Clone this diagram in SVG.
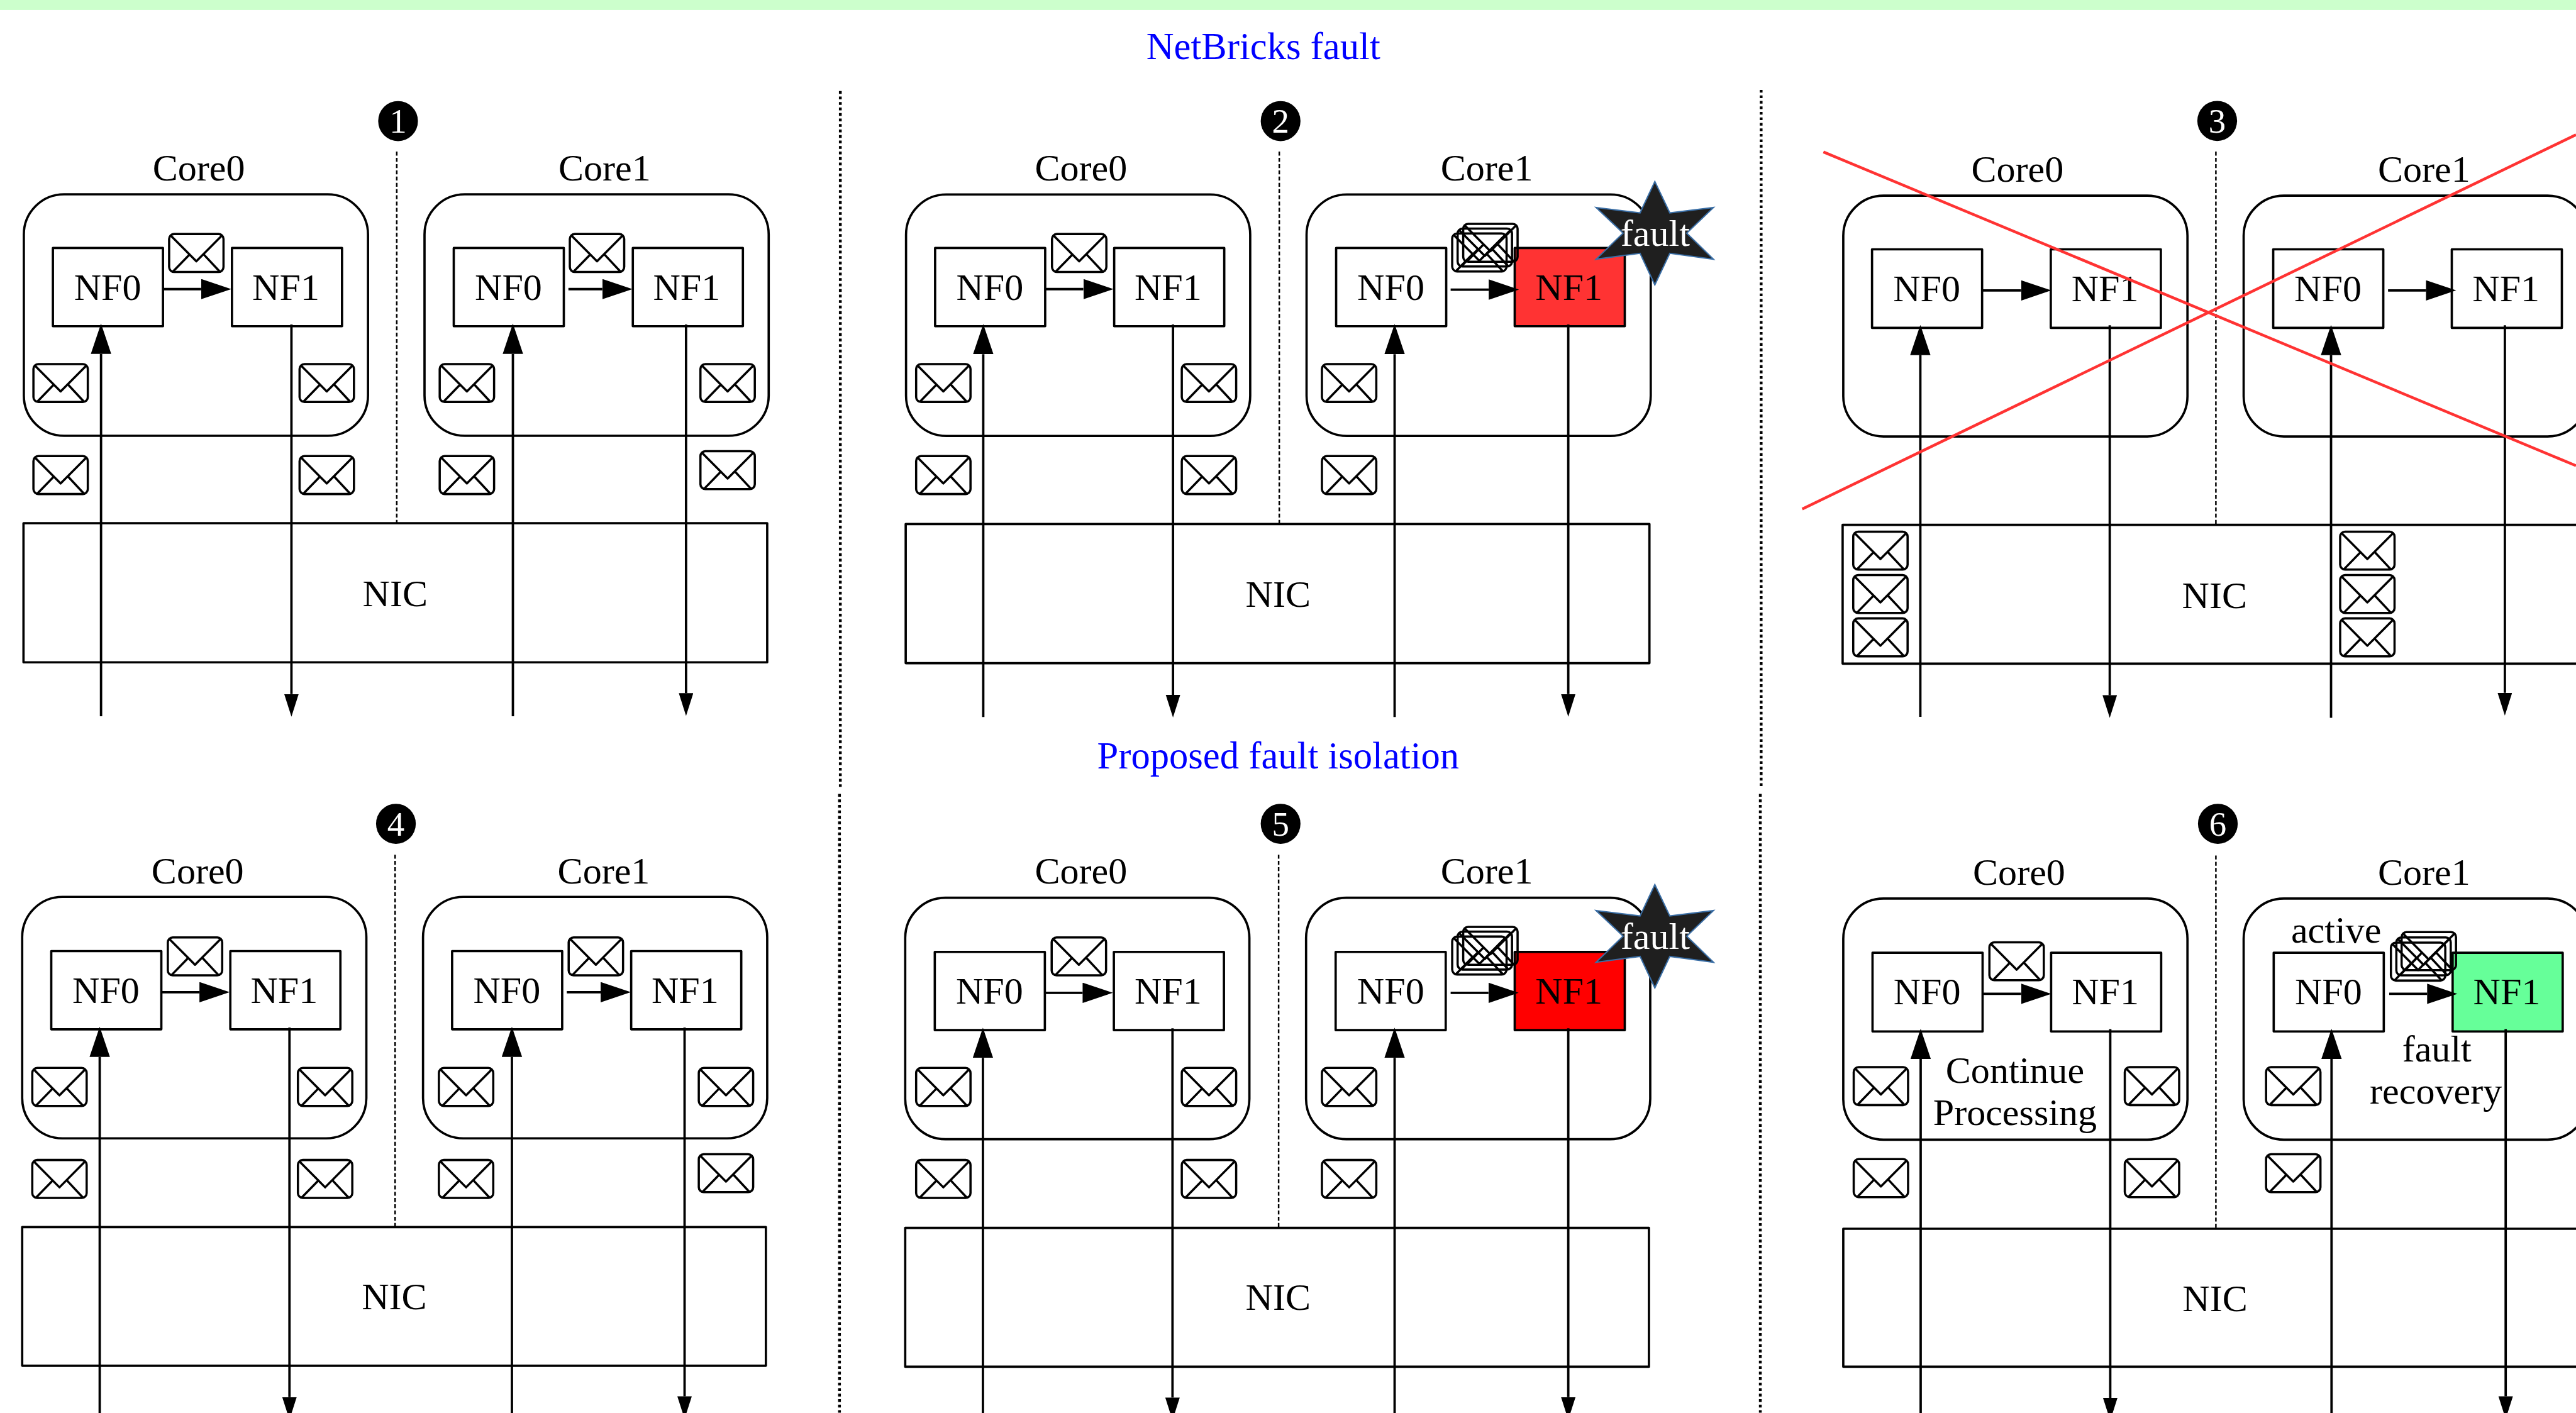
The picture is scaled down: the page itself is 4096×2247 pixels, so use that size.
<svg xmlns="http://www.w3.org/2000/svg" width="4096" height="2247" viewBox="0 0 4096 2247">
<style>
.box{fill:none;stroke:#000;stroke-width:1.4;stroke-linejoin:round}
.nf{fill:#fff;stroke:#000;stroke-width:1.4;stroke-linejoin:round}
.env{fill:none;stroke:#000;stroke-width:1.35;stroke-linejoin:round}
.t{font-family:"Liberation Serif","Times New Roman",serif;font-size:23px;text-anchor:middle;fill:#000}
.ttl{fill:#0000ff;font-size:23.2px}
.num{font-size:21px;fill:#fff}
.w{fill:#fff}
.badge{fill:#000}
.star{fill:#1f1f1f;stroke:#3a6ea5;stroke-width:.8}
.arrow{fill:none;stroke:#000;stroke-width:1.45}
.up{marker-end:url(#hb)}
.dn{marker-end:url(#hs)}
.in{fill:none;stroke:#000;stroke-width:.95;stroke-dasharray:2.4 1.4}
.dv{fill:none;stroke:#000;stroke-width:1.7;stroke-dasharray:1.7 1.65}
.x{stroke:#ff3333;stroke-width:1.7;fill:none}
</style>
<defs>
<marker id="hb" markerUnits="userSpaceOnUse" markerWidth="19" markerHeight="13" refX="0" refY="6.2" orient="auto"><path d="M0 0L18.4 6.2L0 12.4Z" fill="#000"/></marker>
<marker id="hs" markerUnits="userSpaceOnUse" markerWidth="14" markerHeight="9" refX="0" refY="4.4" orient="auto"><path d="M0 0L13.8 4.4L0 8.8Z" fill="#000"/></marker>
<g id="env" class="env"><rect x=".65" y=".65" width="33.1" height="23.1" rx="3"/><path d="M1.5 1.5L17.2 17.3L32.9 1.5M3 23.5L13 13.2M21.8 13.2L31.4 23.5"/></g>
<polygon id="starShape" class="star" points="0,-31.4 9.1,-12.3 35.7,-15.6 19.4,0 35.7,15.9 9.1,12.3 0,31.5 -9,12.3 -35.8,15.9 -19.3,0 -35.8,-15.6 -9,-12.3"/>
</defs>
<g transform="scale(2.61224)">
<rect id="band" x="0" y="0" width="1568" height="6.1" fill="#ccffcc"/>
<text id="title1" class="t ttl" x="769" y="36">NetBricks fault</text>
<text id="title2" class="t ttl" x="778" y="467.7">Proposed fault isolation</text>
<g id="dividers">
<path class="dv" d="M511.5 55.4V479M511 483.3V860M1072 54.7V479M1071.5 483.3V860"/>
</g>

<g id="panel1">
<g id="p1-badge"><ellipse class="badge" cx="242.3" cy="73.7" rx="12.1" ry="12.2"/><text class="t num" x="242.3" y="80.8">1</text></g>
<g id="p1-core0"><rect class="box" x="14.5" y="118.3" width="209.5" height="147" rx="24.5"/><text class="t" x="121" y="109.7">Core0</text></g>
<g id="p1-core1"><rect class="box" x="258.4" y="118.3" width="209.5" height="147" rx="24.5"/><text class="t" x="368" y="109.7">Core1</text></g>
<g id="p1-c0-nf0"><rect class="nf" x="32.2" y="151" width="67" height="47.6"/><text class="t" x="65.5" y="182.5">NF0</text></g>
<g id="p1-c0-nf1"><rect class="nf" x="141.2" y="151" width="67" height="47.6"/><text class="t" x="174" y="182.5">NF1</text></g>
<g id="p1-c1-nf0"><rect class="nf" x="276.2" y="151" width="67" height="47.6"/><text class="t" x="309.5" y="182.5">NF0</text></g>
<g id="p1-c1-nf1"><rect class="nf" x="385.2" y="151" width="67" height="47.6"/><text class="t" x="418" y="182.5">NF1</text></g>
<g id="p1-nic"><rect class="box" x="14.3" y="318.5" width="452.7" height="84.7"/><text class="t" x="240.5" y="369">NIC</text></g>
<g id="p1-envs">
<use href="#env" x="102.3" y="141.8"/><use href="#env" x="346.2" y="141.8"/>
<use href="#env" x="19.7" y="221"/><use href="#env" x="181.7" y="221"/><use href="#env" x="19.7" y="277"/><use href="#env" x="181.7" y="277"/>
<use href="#env" x="267" y="221"/><use href="#env" x="425.7" y="221"/><use href="#env" x="267" y="277"/><use href="#env" x="425.7" y="274"/>
</g>
</g>

<g id="panel2">
<g id="p2-badge"><ellipse class="badge" cx="779.5" cy="73.7" rx="12.1" ry="12.2"/><text class="t num" x="779.5" y="80.8">2</text></g>
<g id="p2-core0"><rect class="box" x="551.5" y="118.4" width="209.5" height="147" rx="24.5"/><text class="t" x="658" y="110">Core0</text></g>
<g id="p2-core1"><rect class="box" x="795.3" y="118.4" width="209.5" height="147" rx="24.5"/><text class="t" x="905" y="110">Core1</text></g>
<g id="p2-c0-nf0"><rect class="nf" x="569.2" y="151" width="67" height="47.6"/><text class="t" x="602.5" y="182.5">NF0</text></g>
<g id="p2-c0-nf1"><rect class="nf" x="678.2" y="151" width="67" height="47.6"/><text class="t" x="711" y="182.5">NF1</text></g>
<g id="p2-c1-nf0"><rect class="nf" x="813.3" y="151" width="67" height="47.6"/><text class="t" x="846.6" y="182.5">NF0</text></g>
<g id="p2-c1-nf1"><rect class="nf" style="fill:#ff3333" x="922" y="151" width="67" height="47.6"/><text class="t" x="955" y="182.5">NF1</text></g>
<g id="p2-nic"><rect class="box" x="551.3" y="319" width="452.7" height="84.7"/><text class="t" x="778" y="369.5">NIC</text></g>
<g id="p2-envs">
<use href="#env" x="639.7" y="141.8"/>
<use href="#env" x="883.3" y="141.5"/><use href="#env" x="886.6" y="138.5"/><use href="#env" x="890" y="135.6"/>
<use href="#env" x="557" y="221"/><use href="#env" x="718.7" y="221"/><use href="#env" x="557" y="277"/><use href="#env" x="718.7" y="277"/>
<use href="#env" x="804" y="221"/><use href="#env" x="804" y="277"/>
</g>
</g>

<g id="panel3">
<g id="p3-badge"><ellipse class="badge" cx="1349.6" cy="73.6" rx="12.1" ry="12.2"/><text class="t num" x="1349.6" y="80.7">3</text></g>
<g id="p3-core0"><rect class="box" x="1122" y="119.1" width="209.5" height="146.6" rx="24.5"/><text class="t" x="1228" y="110.6">Core0</text></g>
<g id="p3-core1"><rect class="box" x="1365.7" y="119.1" width="209.5" height="146.6" rx="24.5"/><text class="t" x="1475.5" y="110.6">Core1</text></g>
<g id="p3-c0-nf0"><rect class="nf" x="1139.5" y="151.8" width="67" height="47.8"/><text class="t" x="1172.8" y="183.3">NF0</text></g>
<g id="p3-c0-nf1"><rect class="nf" x="1248.3" y="151.8" width="67" height="47.8"/><text class="t" x="1281.3" y="183.3">NF1</text></g>
<g id="p3-c1-nf0"><rect class="nf" x="1383.7" y="151.8" width="67" height="47.8"/><text class="t" x="1417" y="183.3">NF0</text></g>
<g id="p3-c1-nf1"><rect class="nf" x="1492.4" y="151.8" width="67" height="47.8"/><text class="t" x="1525.4" y="183.3">NF1</text></g>
<g id="p3-nic"><rect class="box" x="1121.6" y="319.5" width="452.7" height="84.5"/><text class="t" x="1348" y="370">NIC</text></g>
<g id="p3-envs">
<use href="#env" x="1127.4" y="323"/><use href="#env" x="1127.4" y="349.4"/><use href="#env" x="1127.4" y="375.8"/>
<use href="#env" x="1423.8" y="323"/><use href="#env" x="1423.8" y="349.4"/><use href="#env" x="1423.8" y="375.8"/>
</g>
</g>

<g id="panel4">
<g id="p4-badge"><ellipse class="badge" cx="241" cy="501.5" rx="12.1" ry="12.2"/><text class="t num" x="241" y="508.6">4</text></g>
<g id="p4-core0"><rect class="box" x="13.5" y="546" width="209.5" height="147" rx="24.5"/><text class="t" x="120.3" y="537.7">Core0</text></g>
<g id="p4-core1"><rect class="box" x="257.5" y="546" width="209.5" height="147" rx="24.5"/><text class="t" x="367.5" y="537.7">Core1</text></g>
<g id="p4-c0-nf0"><rect class="nf" x="31.2" y="579" width="67" height="47.6"/><text class="t" x="64.5" y="610.5">NF0</text></g>
<g id="p4-c0-nf1"><rect class="nf" x="140.2" y="579" width="67" height="47.6"/><text class="t" x="173" y="610.5">NF1</text></g>
<g id="p4-c1-nf0"><rect class="nf" x="275.2" y="579" width="67" height="47.6"/><text class="t" x="308.5" y="610.5">NF0</text></g>
<g id="p4-c1-nf1"><rect class="nf" x="384.2" y="579" width="67" height="47.6"/><text class="t" x="417" y="610.5">NF1</text></g>
<g id="p4-nic"><rect class="box" x="13.5" y="747" width="452.7" height="84.4"/><text class="t" x="240" y="797">NIC</text></g>
<g id="p4-envs">
<use href="#env" x="101.5" y="570"/><use href="#env" x="345.5" y="570"/>
<use href="#env" x="19" y="649.5"/><use href="#env" x="180.7" y="649.5"/><use href="#env" x="19" y="705.5"/><use href="#env" x="180.7" y="705.5"/>
<use href="#env" x="266.5" y="649.5"/><use href="#env" x="424.7" y="649.5"/><use href="#env" x="266.5" y="705.5"/><use href="#env" x="424.7" y="702"/>
</g>
</g>

<g id="panel5">
<g id="p5-badge"><ellipse class="badge" cx="779.5" cy="501.5" rx="12.1" ry="12.2"/><text class="t num" x="779.5" y="508.6">5</text></g>
<g id="p5-core0"><rect class="box" x="551" y="546.5" width="209.5" height="147" rx="24.5"/><text class="t" x="658" y="538">Core0</text></g>
<g id="p5-core1"><rect class="box" x="795" y="546.5" width="209.5" height="147" rx="24.5"/><text class="t" x="905" y="538">Core1</text></g>
<g id="p5-c0-nf0"><rect class="nf" x="569" y="579.5" width="67" height="47.6"/><text class="t" x="602.3" y="611">NF0</text></g>
<g id="p5-c0-nf1"><rect class="nf" x="678" y="579.5" width="67" height="47.6"/><text class="t" x="711" y="611">NF1</text></g>
<g id="p5-c1-nf0"><rect class="nf" x="813" y="579.5" width="67" height="47.6"/><text class="t" x="846.5" y="611">NF0</text></g>
<g id="p5-c1-nf1"><rect class="nf" style="fill:#ff0000" x="922" y="579.5" width="67" height="47.6"/><text class="t" x="955" y="611">NF1</text></g>
<g id="p5-nic"><rect class="box" x="551" y="747.5" width="452.7" height="84.5"/><text class="t" x="778" y="797.5">NIC</text></g>
<g id="p5-envs">
<use href="#env" x="639.5" y="570"/>
<use href="#env" x="883.3" y="569.5"/><use href="#env" x="886.6" y="566.5"/><use href="#env" x="890" y="563.6"/>
<use href="#env" x="557" y="649.5"/><use href="#env" x="718.7" y="649.5"/><use href="#env" x="557" y="705.5"/><use href="#env" x="718.7" y="705.5"/>
<use href="#env" x="804" y="649.5"/><use href="#env" x="804" y="705.5"/>
</g>
</g>

<g id="panel6">
<g id="p6-badge"><ellipse class="badge" cx="1350" cy="501.5" rx="12.1" ry="12.2"/><text class="t num" x="1350" y="508.6">6</text></g>
<g id="p6-core0"><rect class="box" x="1122" y="547" width="209.5" height="146.8" rx="24.5"/><text class="t" x="1229" y="538.5">Core0</text></g>
<g id="p6-core1"><rect class="box" x="1365.7" y="547" width="209.5" height="146.8" rx="24.5"/><text class="t" x="1475.5" y="538.5">Core1</text></g>
<g id="p6-c0-nf0"><rect class="nf" x="1139.8" y="580" width="67" height="47.9"/><text class="t" x="1173" y="611.5">NF0</text></g>
<g id="p6-c0-nf1"><rect class="nf" x="1248.5" y="580" width="67" height="47.9"/><text class="t" x="1281.5" y="611.5">NF1</text></g>
<g id="p6-c1-nf0"><rect class="nf" x="1384" y="580" width="67" height="47.9"/><text class="t" x="1417.3" y="611.5">NF0</text></g>
<g id="p6-c1-nf1"><rect class="nf" style="fill:#66ff99" x="1492.9" y="580" width="67" height="47.9"/><text class="t" x="1525.9" y="611.5">NF1</text></g>
<g id="p6-nic"><rect class="box" x="1122" y="748" width="452.7" height="84"/><text class="t" x="1348.3" y="798">NIC</text></g>
<g id="p6-labels">
<text class="t" x="1226.5" y="659.2">Continue</text><text class="t" x="1226.5" y="685">Processing</text>
<text class="t" x="1422" y="574">active</text>
<text class="t" x="1483.3" y="646">fault</text><text class="t" x="1482.7" y="672">recovery</text>
</g>
<g id="p6-envs">
<use href="#env" x="1210.3" y="573"/>
<use href="#env" x="1454.7" y="573.2"/><use href="#env" x="1458" y="570"/><use href="#env" x="1461.2" y="566.8"/>
<use href="#env" x="1127.7" y="649"/><use href="#env" x="1292.7" y="649"/><use href="#env" x="1127.7" y="705"/><use href="#env" x="1292.7" y="705"/>
<use href="#env" x="1378.7" y="649"/><use href="#env" x="1378.7" y="702"/>
</g>
</g>

<g id="connectors">
<path class="in" d="M241.5 92.3V318.5M778.7 92.3V319M1348.8 92.3V319.5M240.5 520.3V747M778.3 520.3V747.5M1348.8 520.8V748"/>
<g class="arrow">
<path class="up" d="M99.5 176H122.4"/><path class="up" d="M346 176H366.6"/>
<path class="up" d="M636.3 176H659.4"/><path class="up" d="M883 176.3H906.2"/>
<path class="up" d="M1207 176.8H1230.2"/><path class="up" d="M1453.6 176.8H1476.7"/>
<path class="up" d="M98.5 604H121.4"/><path class="up" d="M345 604H365.6"/>
<path class="up" d="M636 604.4H659"/><path class="up" d="M883 604.4H906"/>
<path class="up" d="M1207.2 605H1230.2"/><path class="up" d="M1454.3 605H1477.4"/>

<path class="up" d="M61.5 436V215.4"/><path class="up" d="M312.2 436V215.4"/>
<path class="up" d="M598.5 436.5V215.6"/><path class="up" d="M848.9 436.5V215.6"/>
<path class="up" d="M1168.9 436.4V216.2"/><path class="up" d="M1418.9 437V216.2"/>
<path class="up" d="M60.7 864V643.4"/><path class="up" d="M311.6 864V643.4"/>
<path class="up" d="M598.3 864V644"/><path class="up" d="M848.9 864V644"/>
<path class="up" d="M1169.1 864V644.7"/><path class="up" d="M1419.2 864V644.7"/>

<path class="dn" d="M177.4 197.5V422.5"/><path class="dn" d="M417.6 197.5V422"/>
<path class="dn" d="M714 197.5V423"/><path class="dn" d="M954.6 197.5V422.5"/>
<path class="dn" d="M1284.2 198V423.2"/><path class="dn" d="M1524.7 198V421.8"/>
<path class="dn" d="M176.2 625.5V850.5"/><path class="dn" d="M416.7 625.5V850"/>
<path class="dn" d="M713.7 626V850.8"/><path class="dn" d="M954.6 626V850.5"/>
<path class="dn" d="M1284.5 626.5V851"/><path class="dn" d="M1525.2 626.5V850"/>
</g>
</g>

<g id="p2-fault"><use href="#starShape" x="1007.3" y="141.9"/><text class="t w" x="1007.5" y="149.6">fault</text></g>
<g id="p5-fault"><use href="#starShape" x="1007.3" y="569.9"/><text class="t w" x="1007.5" y="577.6">fault</text></g>
<g id="p3-cross"><path class="x" d="M1109.9 92.5L1568 283.5M1097 309.9L1568 82"/></g>
</g>
</svg>
